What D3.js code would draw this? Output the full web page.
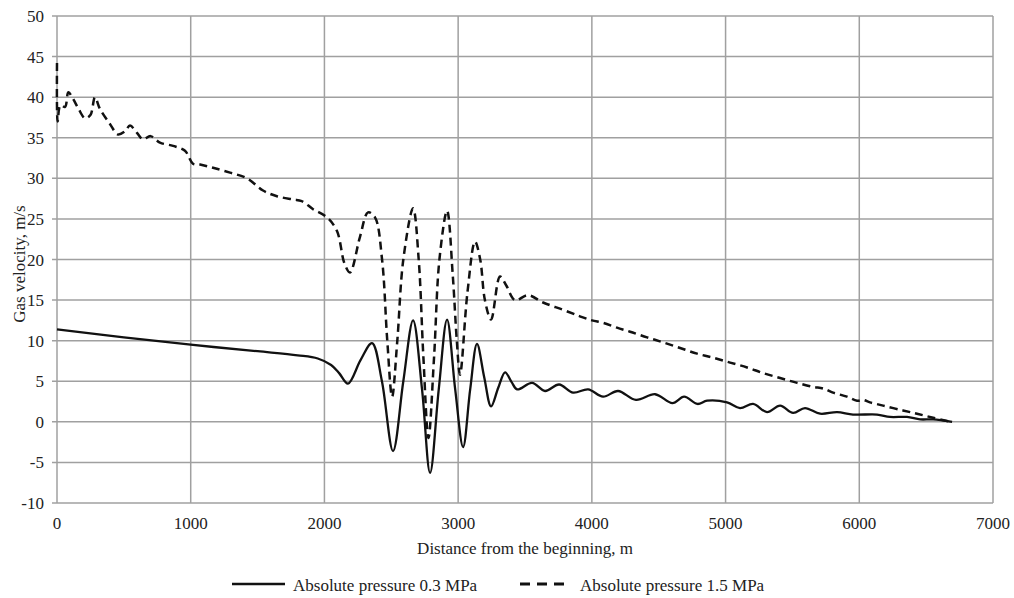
<!DOCTYPE html>
<html lang="en">
<head>
<meta charset="UTF-8">
<title>Gas velocity vs distance</title>
<script src="https://cdn.jsdelivr.net/npm/d3@7"></script>
<style>
  body { margin: 0; background: #fff; }
  text { font-family: "Liberation Serif", "Times New Roman", serif; fill: #222; }
</style>
</head>
<body>
<svg id="main" width="1014" height="598"></svg>
<script>
// ticks
const xTicks = [0, 1000, 2000, 3000, 4000, 5000, 6000, 7000];
const yTicks = [-10, -5, 0, 5, 10, 15, 20, 25, 30, 35, 40, 45, 50];

// series: [distance m, velocity m/s]
const lowPressure = [
  [0, 11.4], [500, 10.4], [1000, 9.5], [1500, 8.7], [1800, 8.2], [1950, 7.8], [2050, 7.0],
  [2110, 6.0], [2176, 4.7], [2270, 7.6], [2356, 9.7], [2430, 5.0], [2513, -3.6], [2590, 5.0],
  [2663, 12.5], [2730, 4.0], [2790, -6.3], [2855, 4.0], [2917, 12.6], [2978, 4.0], [3037, -3.1],
  [3090, 4.0], [3141, 9.6], [3195, 5.5], [3246, 1.9], [3300, 4.2], [3351, 6.1], [3400, 4.9],
  [3441, 4.0], [3553, 4.8], [3650, 3.8], [3755, 4.6], [3860, 3.6], [3972, 4.0], [4084, 3.1],
  [4196, 3.8], [4330, 2.7], [4473, 3.4], [4603, 2.3], [4690, 3.1], [4790, 2.2], [4862, 2.6],
  [5011, 2.4], [5108, 1.7], [5206, 2.2], [5310, 1.2], [5408, 2.0], [5505, 1.1], [5594, 1.7],
  [5707, 1.0], [5834, 1.2], [5953, 0.9], [6133, 0.9], [6230, 0.6], [6357, 0.6], [6455, 0.3],
  [6552, 0.3], [6694, 0.0]
];

const highPressure = [
  [0, 44.2], [5, 37.0], [25, 39.0], [60, 38.8], [85, 40.6], [120, 39.8], [160, 38.6],
  [210, 37.4], [250, 37.8], [284, 40.0], [320, 38.6], [396, 36.7], [456, 35.4], [509, 35.8],
  [546, 36.5], [598, 35.6], [643, 34.8], [700, 35.2], [770, 34.4], [868, 34.0], [957, 33.4],
  [1017, 31.8], [1070, 31.7], [1167, 31.3], [1294, 30.7], [1421, 30.0], [1541, 28.5],
  [1645, 27.8], [1765, 27.4], [1830, 27.2], [1915, 26.2], [2019, 25.2], [2094, 23.5],
  [2150, 19.5], [2191, 18.4], [2266, 22.8], [2326, 25.8], [2378, 25.2], [2431, 20.0],
  [2470, 10.0], [2506, 3.1], [2545, 10.0], [2590, 20.0], [2663, 26.3], [2705, 20.0],
  [2740, 8.0], [2778, -2.0], [2820, 8.0], [2860, 20.0], [2917, 26.0], [2960, 18.0],
  [2990, 10.0], [3014, 5.8], [3070, 16.0], [3126, 22.2], [3165, 20.0], [3200, 15.0],
  [3246, 12.6], [3313, 17.9], [3360, 16.8], [3425, 15.0], [3523, 15.6], [3635, 14.7],
  [3785, 13.8], [3911, 13.0], [4001, 12.5], [4084, 12.2], [4188, 11.6], [4286, 11.1],
  [4413, 10.4], [4532, 9.8], [4660, 9.1], [4787, 8.4], [4907, 7.9], [5034, 7.3],
  [5161, 6.7], [5281, 6.0], [5408, 5.4], [5535, 4.8], [5655, 4.3], [5730, 4.1],
  [5804, 3.6], [5908, 3.1], [5983, 2.6], [6028, 2.7], [6080, 2.4], [6178, 2.0],
  [6327, 1.4], [6432, 1.0], [6552, 0.5], [6680, 0.0]
];

const legendLabels = ["Absolute pressure 0.3 MPa", "Absolute pressure 1.5 MPa"];

const svg = d3.select("#main");
const plotLeft = 57, plotRight = 993, plotTop = 16, plotBottom = 503;
const fontSize = 17;

const x = d3.scaleLinear().domain([0, 7000]).range([plotLeft, plotRight]);
const y = d3.scaleLinear().domain([-10, 50]).range([plotBottom, plotTop]);

const gridColor = "#a0a0a0";

// vertical grid
svg.append("g")
  .selectAll("line")
  .data(xTicks)
  .join("line")
  .attr("x1", d => x(d)).attr("x2", d => x(d))
  .attr("y1", plotTop).attr("y2", plotBottom)
  .attr("stroke", gridColor).attr("stroke-width", 1.5);

// horizontal grid (with small ticks on the left)
svg.append("g")
  .selectAll("line")
  .data(yTicks)
  .join("line")
  .attr("x1", plotLeft - 5).attr("x2", plotRight)
  .attr("y1", d => y(d)).attr("y2", d => y(d))
  .attr("stroke", gridColor).attr("stroke-width", 1.5);

// y tick labels
svg.append("g")
  .selectAll("text")
  .data(yTicks)
  .join("text")
  .attr("x", plotLeft - 13)
  .attr("y", d => y(d) + 6)
  .attr("text-anchor", "end")
  .attr("font-size", fontSize)
  .text(d => d);

// x tick labels
svg.append("g")
  .selectAll("text")
  .data(xTicks)
  .join("text")
  .attr("x", d => x(d))
  .attr("y", 529)
  .attr("text-anchor", "middle")
  .attr("font-size", fontSize)
  .text(d => d);

// axis titles
svg.append("text")
  .attr("x", 525)
  .attr("y", 554)
  .attr("text-anchor", "middle")
  .attr("font-size", fontSize)
  .text("Distance from the beginning, m");

svg.append("text")
  .attr("transform", "translate(25, 264) rotate(-90)")
  .attr("text-anchor", "middle")
  .attr("font-size", fontSize)
  .text("Gas velocity, m/s");

const line = d3.line()
  .x(d => x(d[0]))
  .y(d => y(d[1]))
  .curve(d3.curveCatmullRom.alpha(0.5));

svg.append("path")
  .datum(lowPressure)
  .attr("d", line)
  .attr("fill", "none")
  .attr("stroke", "#111")
  .attr("stroke-width", 2.3)
  .attr("stroke-linejoin", "round");

svg.append("path")
  .datum(highPressure)
  .attr("d", line)
  .attr("fill", "none")
  .attr("stroke", "#111")
  .attr("stroke-width", 2.5)
  .attr("stroke-dasharray", "8,5");

// legend
const legend = svg.append("g");
legend.append("line")
  .attr("x1", 232).attr("x2", 285).attr("y1", 584).attr("y2", 584)
  .attr("stroke", "#111").attr("stroke-width", 2.3);
legend.append("text")
  .attr("x", 293).attr("y", 591)
  .attr("font-size", fontSize)
  .text(legendLabels[0]);
legend.append("line")
  .attr("x1", 520).attr("x2", 564).attr("y1", 584).attr("y2", 584)
  .attr("stroke", "#111").attr("stroke-width", 2.8)
  .attr("stroke-dasharray", "10,7");
legend.append("text")
  .attr("x", 580).attr("y", 591)
  .attr("font-size", fontSize)
  .text(legendLabels[1]);
</script>
</body>
</html>
